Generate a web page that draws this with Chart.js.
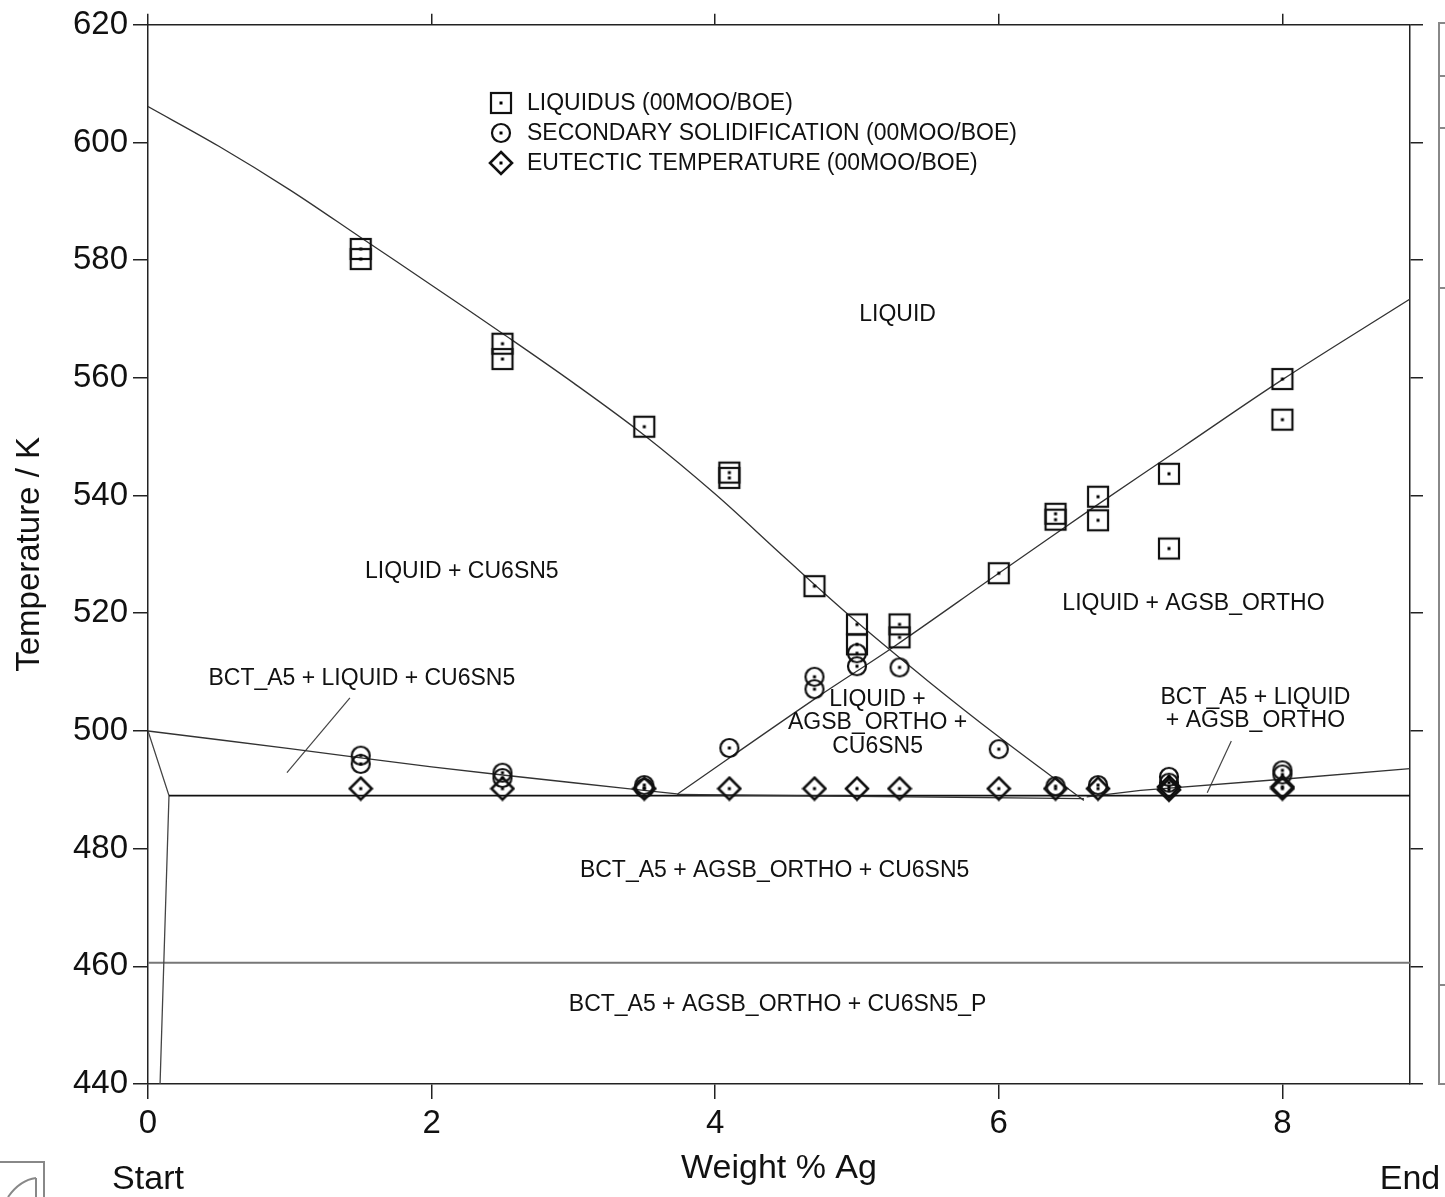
<!DOCTYPE html>
<html>
<head>
<meta charset="utf-8">
<script src="https://cdn.jsdelivr.net/npm/chart.js@4.4.0/dist/chart.umd.min.js"></script>
<style>
  body { margin: 0; background: #fff; }
  #wrap { width: 1445px; height: 1197px; }
</style>
</head>
<body>
<div id="wrap"><canvas id="phaseChart" width="1445" height="1197"></canvas></div>
<script>
// 實驗點 (00MOO/BOE)
const liqX = [1.5, 1.5, 2.5, 2.5, 3.5, 4.1, 4.1, 4.7, 5.0, 5.0, 5.3, 5.3, 6.0, 6.4, 6.4, 6.7, 6.7, 7.2, 7.2, 8.0, 8.0];
const liqT = [581.9, 580.2, 565.8, 563.2, 551.7, 543.9, 543.0, 524.6, 518.1, 514.7, 518.1, 515.9, 526.8, 536.9, 535.9, 539.8, 535.8, 543.7, 531.0, 559.8, 552.9];
const secX = [1.5, 1.5, 2.5, 2.5, 3.5, 3.5, 4.1, 4.7, 4.7, 5.0, 5.0, 5.3, 6.0, 6.4, 6.7, 7.2, 7.2, 8.0, 8.0];
const secT = [495.8, 494.4, 492.9, 492.0, 490.8, 490.3, 497.1, 509.2, 507.1, 513.2, 511.0, 510.8, 496.9, 490.6, 490.8, 492.2, 491.2, 493.3, 492.6];
const eutX = [1.5, 2.5, 3.5, 4.1, 4.7, 5.0, 5.3, 6.0, 6.4, 6.7, 7.2, 7.2, 8.0, 8.0];
const eutT = [490.2, 490.2, 490.2, 490.2, 490.2, 490.2, 490.2, 490.2, 490.2, 490.2, 490.5, 490.0, 490.2, 490.5];

// 相界線 (計算結果)
const cuLiqX = [0, 0.5, 1, 1.5, 2, 2.5, 3, 3.5, 4, 4.5, 5, 5.5, 6, 6.6];
const cuLiqT = [606.1, 599.35, 591.95, 583.85, 575.75, 567.55, 559.15, 550.25, 540.25, 529.25, 518.5, 508.5, 499.0, 488.2];
const agLiqX = [3.73, 4.7, 5.265, 6, 6.7, 7.3, 8, 8.9];
const agLiqT = [489.2, 505.4, 514.4, 526.8, 538.5, 548.3, 559.7, 573.4];
const leftSolX = [0, 1, 2, 3, 3.73];
const leftSolT = [500, 497.0, 493.9, 491.2, 489.3];
const rightSolX = [6.62, 7, 8, 8.9];
const rightSolT = [488.8, 489.9, 491.8, 493.6];
const baseX = [3.73, 6.6];
const baseT = [489.2, 488.5];
const eutLineX = [0.148, 8.9];
const eutLineT = [489.0, 489.0];
const edgeX = [0, 0.148, 0.085];
const edgeT = [500, 489.0, 440];
const cuPLineX = [0, 8.9];
const cuPLineT = [460.6, 460.6];
const lead1X = [1.424, 0.98];
const lead1T = [505.6, 492.9];
const lead2X = [7.64, 7.47];
const lead2T = [498.3, 489.5];

// 相區標籤
const regionText = ["LIQUID", "LIQUID + CU6SN5", "LIQUID + AGSB_ORTHO", "BCT_A5 + LIQUID + CU6SN5",
  "LIQUID +", "AGSB_ORTHO +", "CU6SN5", "BCT_A5 + LIQUID", "+ AGSB_ORTHO",
  "BCT_A5 + AGSB_ORTHO + CU6SN5", "BCT_A5 + AGSB_ORTHO + CU6SN5_P"];
const regionX = [5.286, 2.213, 7.373, 1.508, 5.145, 5.145, 5.145, 7.81, 7.81, 4.419, 4.44];
const regionT = [570.8, 527.1, 521.7, 508.8, 505.4, 501.4, 497.3, 505.6, 501.7, 476.3, 453.4];

const legendText = ["LIQUIDUS (00MOO/BOE)", "SECONDARY SOLIDIFICATION (00MOO/BOE)", "EUTECTIC TEMPERATURE (00MOO/BOE)"];
const xTicks = [0, 2, 4, 6, 8];

const FONT = "'Liberation Sans', Arial, sans-serif";

function pts(xs, ys) {
  return xs.map((x, i) => ({ x: x, y: ys[i] }));
}

// 標記圖示 (方框/圓/菱形 + 中心點)
function makeMarker(kind) {
  const c = document.createElement('canvas');
  c.width = 26; c.height = 26;
  const g = c.getContext('2d');
  g.strokeStyle = '#111';
  g.lineWidth = 2.2;
  if (kind == 'square') {
    g.strokeRect(3, 3, 20, 20);
  } else if (kind == 'circle') {
    g.beginPath(); g.arc(13, 13, 9, 0, Math.PI * 2); g.stroke();
  } else {
    g.lineWidth = 2.6;
    g.beginPath(); g.moveTo(13, 2); g.lineTo(24, 13); g.lineTo(13, 24); g.lineTo(2, 13); g.closePath(); g.stroke();
  }
  g.fillStyle = '#000';
  g.fillRect(11.5, 11.5, 3, 3);
  return c;
}
const mSquare = makeMarker('square');
const mCircle = makeMarker('circle');
const mDiamond = makeMarker('diamond');

function markerSet(xs, ys, img) {
  return { data: pts(xs, ys), pointStyle: img, pointRadius: 10, showLine: false, order: 0 };
}
function lineSet(xs, ys, color, width, smooth) {
  return {
    data: pts(xs, ys), showLine: true, pointRadius: 0, borderColor: color, borderWidth: width || 1.3,
    tension: smooth ? 0.35 : 0, order: 1
  };
}

// 文字、圖例、外框裝飾
const decoPlugin = {
  id: 'deco',
  afterDatasetsDraw(chart) {
    const ctx = chart.ctx, xs = chart.scales.x, ys = chart.scales.y, area = chart.chartArea;
    ctx.save();
    ctx.fillStyle = '#111';
    ctx.textAlign = 'center';
    ctx.textBaseline = 'middle';
    ctx.font = '23px ' + FONT;
    for (let i = 0; i < regionText.length; i++) {
      ctx.fillText(regionText[i], xs.getPixelForValue(regionX[i]), ys.getPixelForValue(regionT[i]));
    }
    // 圖例
    const icons = [mSquare, mCircle, mDiamond];
    ctx.textAlign = 'left';
    for (let i = 0; i < legendText.length; i++) {
      const ly = 103 + i * 30;
      ctx.drawImage(icons[i], 501 - 13, ly - 13);
      ctx.fillText(legendText[i], 527, ly + 1);
    }
    // Start / End
    ctx.textAlign = 'center';
    ctx.font = '34px ' + FONT;
    ctx.fillText('Start', area.left, 1180);
    ctx.fillText('End', area.right, 1180);
    // 右側被裁切的面板
    ctx.strokeStyle = '#888';
    ctx.lineWidth = 2;
    ctx.beginPath();
    ctx.moveTo(1450, 23); ctx.lineTo(1439, 23); ctx.lineTo(1439, 1084); ctx.lineTo(1450, 1084);
    [76, 128, 288, 985].forEach(function (y) { ctx.moveTo(1439, y); ctx.lineTo(1450, y); });
    ctx.stroke();
    // 左下角圖示
    ctx.beginPath();
    ctx.moveTo(0, 1162); ctx.lineTo(44, 1162); ctx.lineTo(44, 1200);
    ctx.moveTo(36, 1200); ctx.lineTo(36, 1178);
    ctx.moveTo(8, 1197); ctx.quadraticCurveTo(20, 1180, 36, 1178);
    ctx.stroke();
    ctx.restore();
  }
};

const axisColor = '#222';

new Chart(document.getElementById('phaseChart'), {
  type: 'scatter',
  data: {
    datasets: [
      markerSet(liqX, liqT, mSquare),
      markerSet(secX, secT, mCircle),
      markerSet(eutX, eutT, mDiamond),
      lineSet(cuLiqX, cuLiqT, '#333', 1.3, true),
      lineSet(agLiqX, agLiqT, '#333', 1.3, true),
      lineSet(leftSolX, leftSolT, '#333', 1.4, true),
      lineSet(rightSolX, rightSolT, '#333', 1.4),
      lineSet(baseX, baseT, '#333', 1.4),
      lineSet(eutLineX, eutLineT, '#111', 1.6),
      lineSet(edgeX, edgeT, '#444', 1.3),
      lineSet(cuPLineX, cuPLineT, '#777', 2),
      lineSet(lead1X, lead1T, '#444', 1.2),
      lineSet(lead2X, lead2T, '#444', 1.2)
    ]
  },
  options: {
    responsive: false,
    animation: false,
    events: [],
    devicePixelRatio: 1,
    layout: { padding: 0 },
    plugins: { legend: { display: false }, tooltip: { enabled: false } },
    scales: {
      x: {
        type: 'linear', position: 'bottom', min: 0, max: 8.9,
        afterBuildTicks: function (s) { s.ticks = xTicks.map(v => ({ value: v })); },
        ticks: { font: { size: 33, family: FONT }, color: '#111', padding: 5 },
        grid: { drawOnChartArea: false, tickLength: 15, color: axisColor, lineWidth: 1.5 },
        border: { color: axisColor, width: 1.5 },
        title: { display: true, text: 'Weight % Ag', color: '#111', font: { size: 34, family: FONT }, padding: { top: 0, bottom: 8 } },
        afterFit: function (s) { s.height = 113; }
      },
      x2: {
        type: 'linear', position: 'top', min: 0, max: 8.9,
        afterBuildTicks: function (s) { s.ticks = xTicks.map(v => ({ value: v })); },
        ticks: { display: false },
        grid: { drawOnChartArea: false, tickLength: 11, color: axisColor, lineWidth: 1.5 },
        border: { color: axisColor, width: 1.5 },
        afterFit: function (s) { s.height = 22; }
      },
      y: {
        type: 'linear', position: 'left', min: 440, max: 620,
        ticks: { stepSize: 20, font: { size: 33, family: FONT }, color: '#111', padding: 5 },
        grid: { drawOnChartArea: false, tickLength: 15, color: axisColor, lineWidth: 1.5 },
        border: { color: axisColor, width: 1.5 },
        title: { display: true, text: 'Temperature / K', color: '#111', font: { size: 33, family: FONT }, padding: { top: 10, bottom: 0 } },
        afterFit: function (s) { s.width = 148; }
      },
      y2: {
        type: 'linear', position: 'right', min: 440, max: 620,
        ticks: { display: false, stepSize: 20 },
        grid: { drawOnChartArea: false, tickLength: 13, color: axisColor, lineWidth: 1.5 },
        border: { color: axisColor, width: 1.5 },
        afterFit: function (s) { s.width = 35; }
      }
    }
  },
  plugins: [decoPlugin]
});
</script>
</body>
</html>
